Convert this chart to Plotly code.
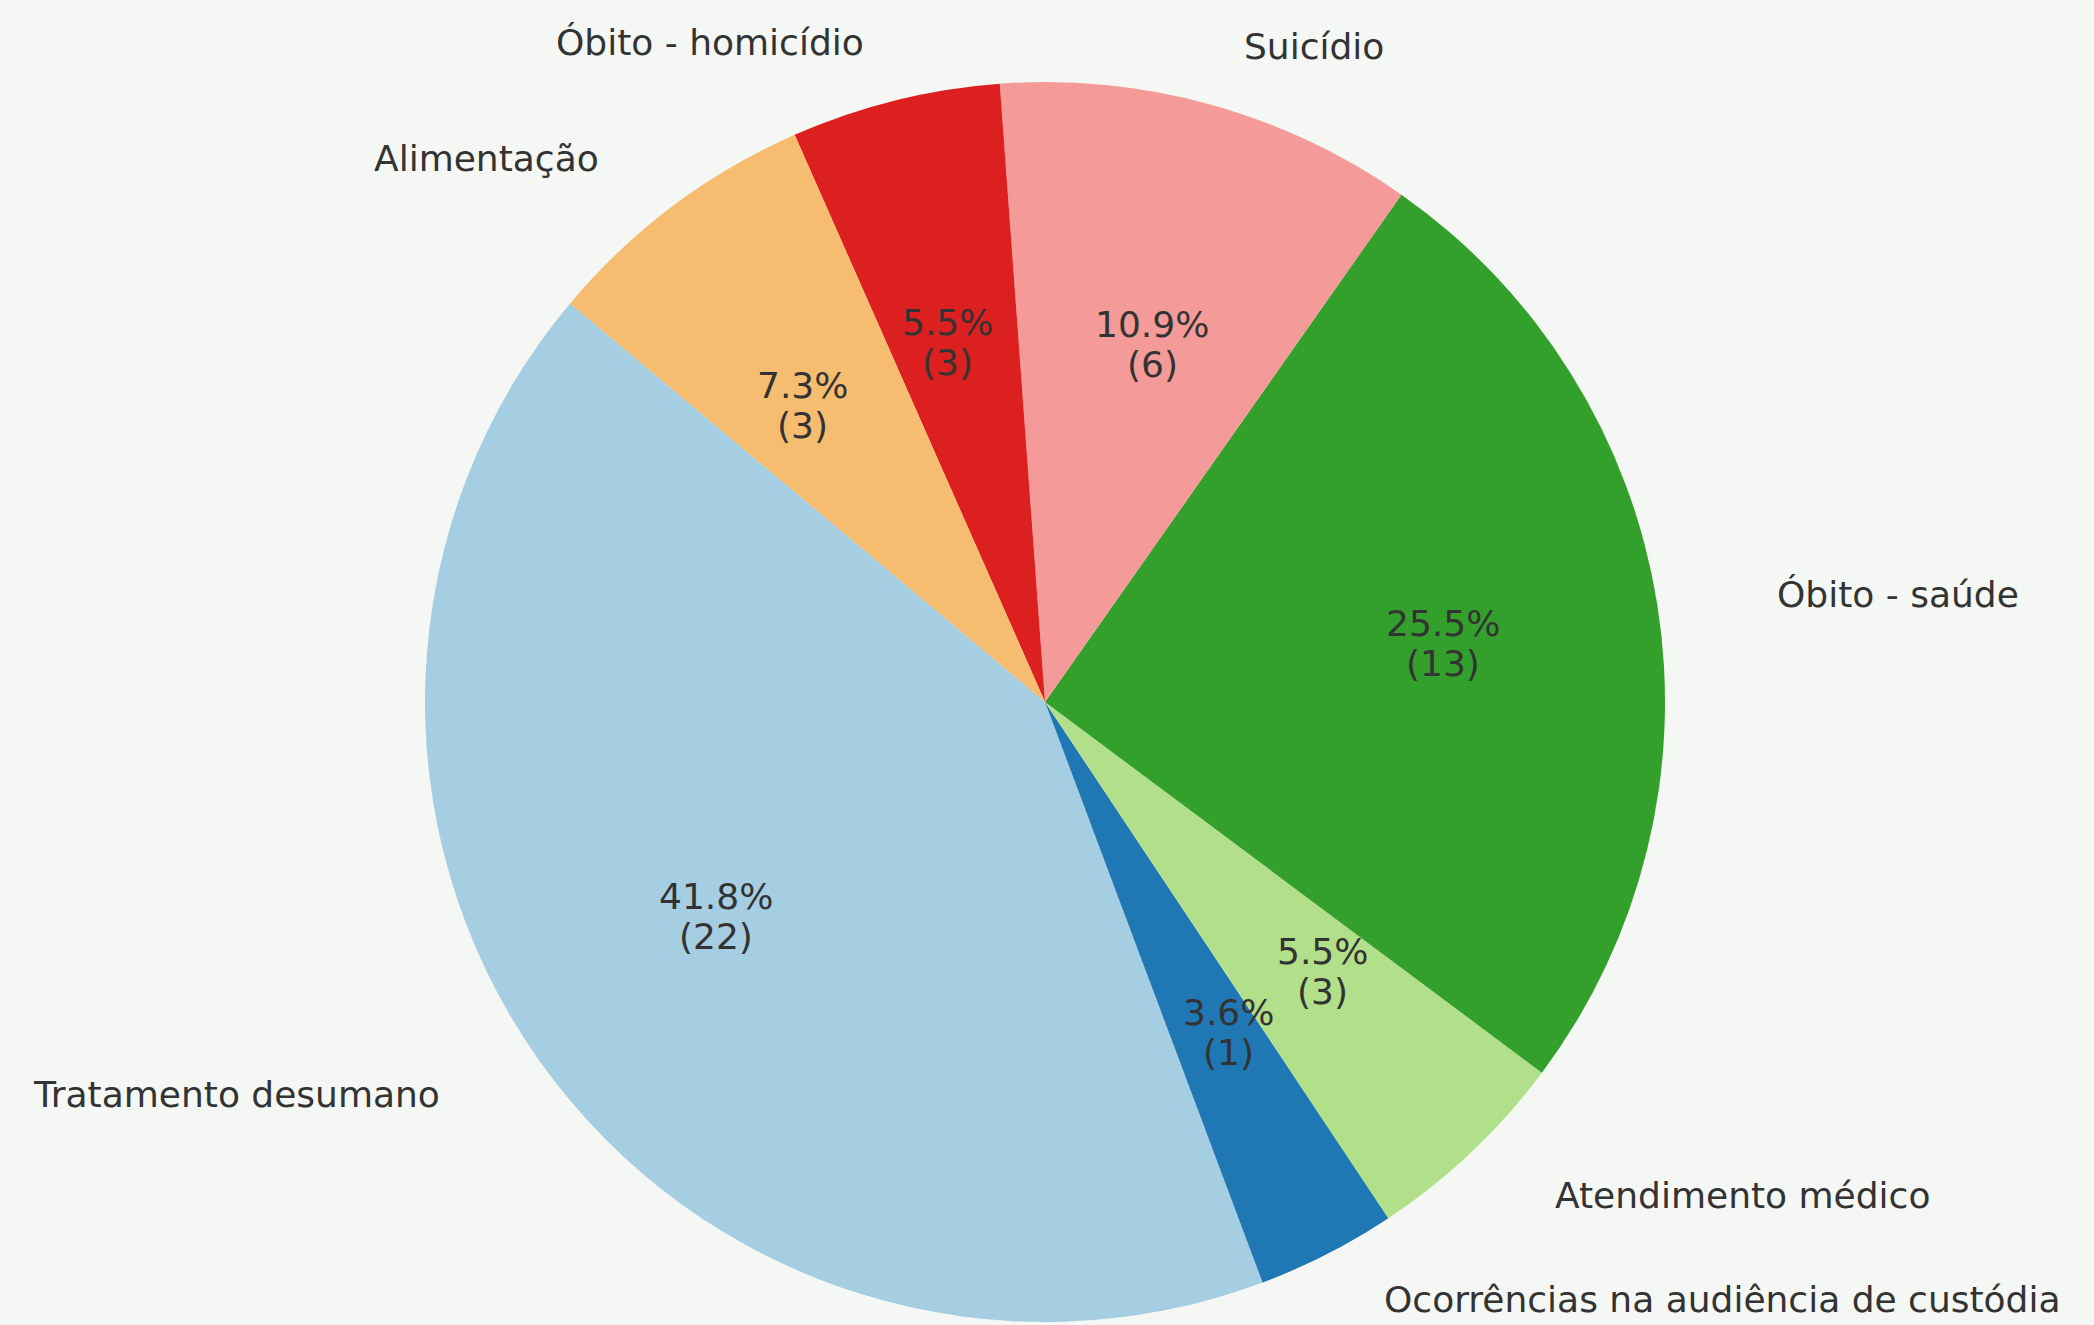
import math
import plotly.graph_objects as go

# ---- data ----
categories = [
    "Tratamento desumano",
    "Ocorrências na audiência de custódia",
    "Atendimento médico",
    "Óbito - saúde",
    "Suicídio",
    "Óbito - homicídio",
    "Alimentação",
]
shares = [23, 2, 3, 14, 6, 3, 4]          # slice sizes (percent basis, total 55)
counts = [22, 1, 3, 13, 6, 3, 3]          # counts printed under the percentages
colors = ["#a6cee3", "#1f78b4", "#b2df8a", "#33a02c", "#f49a98", "#dc1f1f", "#f6bd70"]

# ---- layout constants ----
W, H = 2094, 1325
CX, CY = 1045, 702          # pie centre in pixels
R = 620                     # pie radius in pixels
RX, RY = 672, 618           # text placement radii
START = 140                 # start angle (deg, counterclockwise from 3 o'clock)
FONT = dict(family="DejaVu Sans", size=36, color="#333333")
LINE_GAP = 20               # half distance between percentage and count lines
EDGE_PAD = 26               # keep outer labels inside the page

total = sum(shares)
rotation = (90 - START - 360 * shares[0] / total) % 360

fig = go.Figure(
    go.Pie(
        labels=categories,
        values=shares,
        sort=False,
        direction="counterclockwise",
        rotation=rotation,
        marker=dict(colors=colors, line=dict(width=0)),
        textinfo="none",
        hoverinfo="label+percent",
        showlegend=False,
        domain=dict(
            x=[(CX - R) / W, (CX + R) / W],
            y=[1 - (CY + R) / H, 1 - (CY - R) / H],
        ),
    )
)

annotations = []
acc = 0
for cat, v, c in zip(categories, shares, counts):
    mid = math.radians(START + 360 * (acc + v / 2) / total)
    acc += v
    ca, sa = math.cos(mid), math.sin(mid)
    # outer label
    lx = CX + 1.1 * RX * ca
    ly = min(max(CY - 1.1 * RY * sa, EDGE_PAD), H - EDGE_PAD)
    annotations.append(dict(
        x=lx / W, y=1 - ly / H, xref="paper", yref="paper",
        text=cat, showarrow=False, font=FONT,
        xanchor="left" if ca > 0 else "right", yanchor="middle",
    ))
    # inner percentage and count
    px = CX + 0.6 * RX * ca
    py = CY - 0.6 * RY * sa
    pct = 100 * v / total
    for txt, dy in ((f"{pct:.1f}%", -LINE_GAP), (f"({c})", LINE_GAP)):
        annotations.append(dict(
            x=px / W, y=1 - (py + dy) / H, xref="paper", yref="paper",
            text=txt, showarrow=False, font=FONT,
            xanchor="center", yanchor="middle",
        ))

fig.update_layout(
    width=W, height=H,
    margin=dict(l=0, r=0, t=0, b=0),
    paper_bgcolor="#f5f7f5",
    plot_bgcolor="#f5f7f5",
    annotations=annotations,
)

fig.write_html(
    "out.html",
    config={"displayModeBar": False},
    post_script="document.body.style.margin='0';document.body.style.background='#f5f7f5';",
)
